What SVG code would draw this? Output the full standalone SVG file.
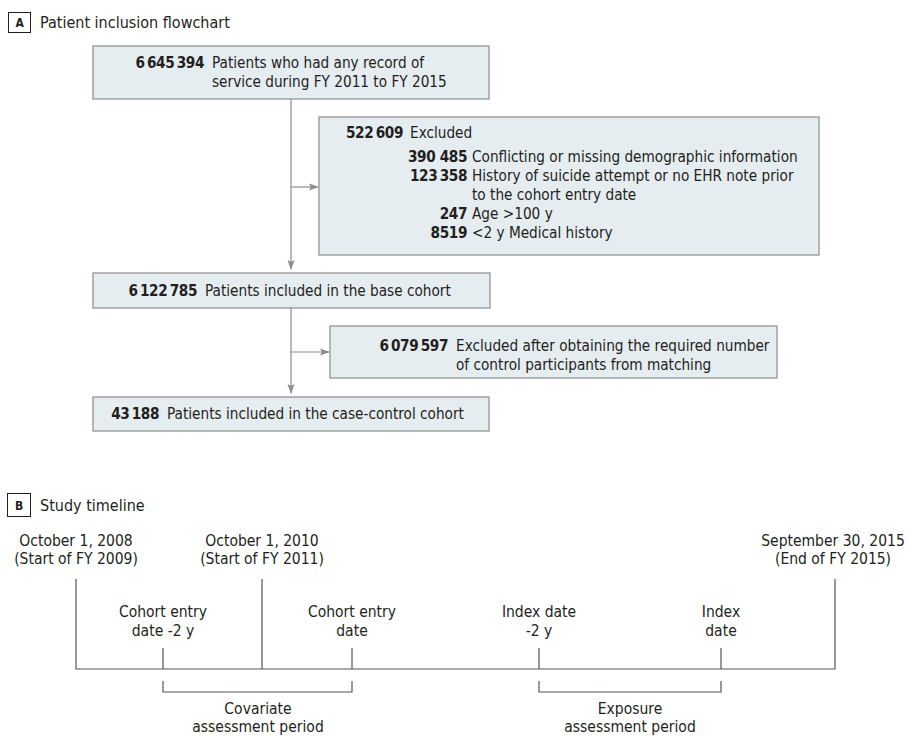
<svg xmlns="http://www.w3.org/2000/svg" width="907" height="736" viewBox="0 0 907 736">
<defs>
<style>
text{font-family:"DejaVu Sans Condensed","Liberation Sans Narrow","Liberation Sans",sans-serif;font-size:15.2px;fill:#231f20;font-stretch:condensed}
.b{font-weight:bold;letter-spacing:-0.4px}
.e{text-anchor:end}
.m{text-anchor:middle}
.t{font-size:15.5px}
.box{fill:#e6edf1;stroke:#8c8c8c;stroke-width:1.2}
.lab{fill:#fff;stroke:#231f20;stroke-width:1}
.conn{fill:none;stroke:#8c8c8c;stroke-width:1.2}
.tl{fill:none;stroke:#555;stroke-width:1.2}
</style>
<marker id="ah" markerWidth="10" markerHeight="8" refX="9" refY="4" orient="auto" markerUnits="userSpaceOnUse">
<path d="M0,0.5 L10,4 L0,7.5 L2,4 Z" fill="#8c8c8c"/>
</marker>
</defs>
<rect width="907" height="736" fill="#fff"/>

<g id="panelA-label">
<rect class="lab" x="8.5" y="12.5" width="22" height="20"/>
<text x="19.5" y="27" class="b m" style="font-size:12px">A</text>
<text x="40" y="28" style="font-size:16px">Patient inclusion flowchart</text>
</g>

<g id="connectors">
<path class="conn" d="M291,99 V269" marker-end="url(#ah)"/>
<path class="conn" d="M291,187 H318" marker-end="url(#ah)"/>
<path class="conn" d="M291,308 V393" marker-end="url(#ah)"/>
<path class="conn" d="M291,352 H329" marker-end="url(#ah)"/>
</g>

<g id="node-all">
<rect class="box" x="93" y="46" width="396" height="53"/>
<text x="204" y="68" class="b e">6&#8201;645&#8201;394</text>
<text x="212" y="68">Patients who had any record of</text>
<text x="212" y="87">service during FY 2011 to FY 2015</text>
</g>

<g id="node-excluded1">
<rect class="box" x="319" y="117" width="500" height="138"/>
<text x="403" y="138" class="b e">522&#8201;609</text>
<text x="410" y="138">Excluded</text>
<text x="467" y="162" class="b e">390 485</text>
<text x="472" y="162">Conflicting or missing demographic information</text>
<text x="467" y="181" class="b e">123&#8201;358</text>
<text x="472" y="181">History of suicide attempt or no EHR note prior</text>
<text x="472" y="200">to the cohort entry date</text>
<text x="467" y="219" class="b e">247</text>
<text x="472" y="219">Age &gt;100 y</text>
<text x="467" y="238" class="b e">8519</text>
<text x="472" y="238">&lt;2 y Medical history</text>
</g>

<g id="node-base">
<rect class="box" x="93" y="273" width="397" height="35"/>
<text x="197" y="296" class="b e">6&#8201;122&#8201;785</text>
<text x="205" y="296">Patients included in the base cohort</text>
</g>

<g id="node-excluded2">
<rect class="box" x="330" y="326" width="447" height="52"/>
<text x="448" y="351" class="b e">6&#8201;079&#8201;597</text>
<text x="456" y="351">Excluded after obtaining the required number</text>
<text x="456" y="370">of control participants from matching</text>
</g>

<g id="node-casecontrol">
<rect class="box" x="93" y="397" width="396" height="34"/>
<text x="159" y="419" class="b e">43&#8201;188</text>
<text x="167" y="419">Patients included in the case-control cohort</text>
</g>

<g id="panelB-label">
<rect class="lab" x="7.5" y="493.5" width="23" height="23"/>
<text x="19" y="510" class="b m" style="font-size:12px">B</text>
<text x="40" y="511" style="font-size:16px">Study timeline</text>
</g>

<g id="timeline">
<path class="tl" d="M76,579 V669 H835 V579 M262,579 V669 M163,648 V669 M352,648 V669 M539,648 V669 M721,648 V669"/>
<path class="tl" d="M163,681 V692 H352 V681 M539,681 V692 H721 V681"/>
<text x="76" y="546" class="m t">October 1, 2008</text>
<text x="76" y="564" class="m t">(Start of FY 2009)</text>
<text x="262" y="546" class="m t">October 1, 2010</text>
<text x="262" y="564" class="m t">(Start of FY 2011)</text>
<text x="833" y="546" class="m t">September 30, 2015</text>
<text x="833" y="564" class="m t">(End of FY 2015)</text>
<text x="163" y="617" class="m t">Cohort entry</text>
<text x="163" y="636" class="m t">date -2 y</text>
<text x="352" y="617" class="m t">Cohort entry</text>
<text x="352" y="636" class="m t">date</text>
<text x="539" y="617" class="m t">Index date</text>
<text x="539" y="636" class="m t">-2 y</text>
<text x="721" y="617" class="m t">Index</text>
<text x="721" y="636" class="m t">date</text>
<text x="258" y="714" class="m t">Covariate</text>
<text x="258" y="732" class="m t">assessment period</text>
<text x="630" y="714" class="m t">Exposure</text>
<text x="630" y="732" class="m t">assessment period</text>
</g>
</svg>
